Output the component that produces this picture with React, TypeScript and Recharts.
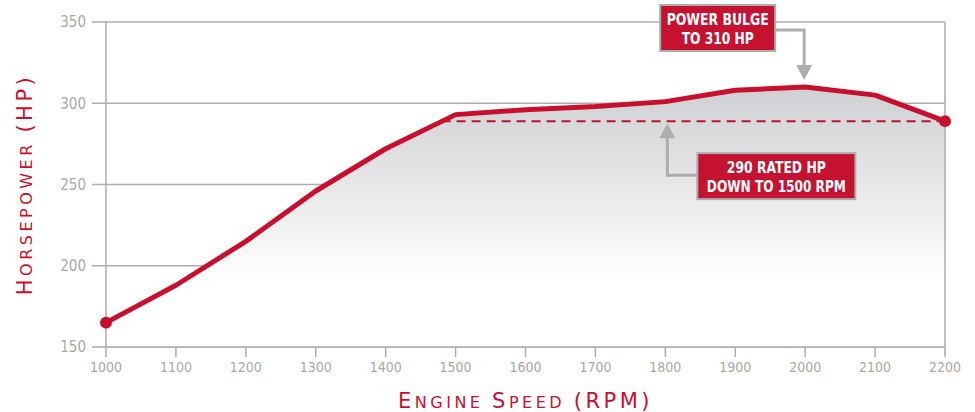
import {
  ComposedChart,
  Area,
  Line,
  XAxis,
  YAxis,
  CartesianGrid,
  ReferenceLine,
  ReferenceDot,
} from 'recharts'

const rpm = [1000, 1100, 1200, 1300, 1400, 1500, 1600, 1700, 1800, 1900, 2000, 2100, 2200]
const horsepower = [165, 188, 215, 246, 272, 293, 296, 298, 301, 308, 310, 305, 289]
const hpTicks = [150, 200, 250, 300, 350]
const ratedHp = 289
const ratedFromRpm = 1480
const peak = { rpm: 2000, hp: 310 }
const ratedArrowRpm = 1800

const data = rpm.map((r, i) => ({ rpm: r, hp: horsepower[i] }))

const RED = '#c8102e'
const GRAY = '#adadad'
const TICK_FONT = '"Liberation Sans Narrow", "DejaVu Sans Condensed", sans-serif'
const TITLE_FONT = '"DejaVu Sans", Verdana, sans-serif'
const BOX_FONT = '"DejaVu Sans Condensed", "Liberation Sans Narrow", sans-serif'

// small caps done by hand: big first letters, smaller rest
function SmallCaps({ parts }: { parts: [string, boolean][] }) {
  return (
    <>
      {parts.map(([s, big], i) => (
        <tspan key={i} fontSize={big ? 21 : 16}>{s}</tspan>
      ))}
    </>
  )
}

function XTitle({ viewBox }: any) {
  const { x, y, width } = viewBox
  return (
    <text x={x + width / 2} y={y + 61} textAnchor="middle" fill={RED} fontFamily={TITLE_FONT} letterSpacing={3.5}>
      <SmallCaps parts={[['E', true], ['NGINE ', false], ['S', true], ['PEED ', false], ['(RPM)', true]]} />
    </text>
  )
}

function YTitle({ viewBox }: any) {
  const { y, height } = viewBox
  const cx = 32
  const cy = y + height / 2
  return (
    <text x={cx} y={cy} textAnchor="middle" fill={RED} fontFamily={TITLE_FONT} letterSpacing={3.5} transform={`rotate(-90 ${cx} ${cy})`}>
      <SmallCaps parts={[['H', true], ['ORSEPOWER ', false], ['(HP)', true]]} />
    </text>
  )
}

function Box({ x, y, w, h, lines }: { x: number; y: number; w: number; h: number; lines: [string, number][] }) {
  return (
    <g>
      <rect x={x} y={y} width={w} height={h} fill="#c41230" stroke={GRAY} strokeWidth={2} />
      {lines.map(([l, len], i) => (
        <text
          key={i}
          x={x + w / 2}
          y={y + 20 + i * 19}
          textAnchor="middle"
          fill="#fff"
          fontFamily={BOX_FONT}
          fontWeight="bold"
          fontSize={15}
          textLength={len}
          lengthAdjust="spacingAndGlyphs"
        >
          {l}
        </text>
      ))}
    </g>
  )
}

function PeakNote({ cx, cy }: any) {
  return (
    <g>
      <polyline points={`${cx - 30},${cy - 57} ${cx - 1},${cy - 57} ${cx - 1},${cy - 22}`} fill="none" stroke={GRAY} strokeWidth={3} />
      <polygon points={`${cx - 9},${cy - 22} ${cx + 7},${cy - 22} ${cx - 1},${cy - 7}`} fill={GRAY} />
      <Box x={cx - 145} y={cy - 82} w={115} h={46} lines={[['POWER BULGE', 102], ['TO 310 HP', 72]]} />
    </g>
  )
}

function RatedNote({ cx, cy }: any) {
  return (
    <g>
      <polyline points={`${cx + 32},${cy + 54} ${cx + 2},${cy + 54} ${cx + 2},${cy + 16}`} fill="none" stroke={GRAY} strokeWidth={3} />
      <polygon points={`${cx - 6},${cy + 17} ${cx + 10},${cy + 17} ${cx + 2},${cy + 2}`} fill={GRAY} />
      <Box x={cx + 32} y={cy + 32} w={158} h={46} lines={[['290 RATED HP', 99], ['DOWN TO 1500 RPM', 139]]} />
    </g>
  )
}

function EndDot(props: any) {
  const { cx, cy, index } = props
  if (index !== 0 && index !== data.length - 1) return <g key={index} />
  return <circle key={index} cx={cx} cy={cy} r={6} fill={RED} />
}

export default function App() {
  return (
    <div style={{ position: 'absolute', left: 0, top: 0, background: '#fff' }}>
      <ComposedChart width={975} height={412} data={data} margin={{ top: 22, right: 30, bottom: 0, left: 0 }}>
        <defs>
          <linearGradient id="hpFill" gradientUnits="userSpaceOnUse" x1="0" y1="88" x2="0" y2="280">
            <stop offset="0%" stopColor="#cfd0d3" />
            <stop offset="55%" stopColor="#e9e9ea" />
            <stop offset="100%" stopColor="#ffffff" />
          </linearGradient>
        </defs>
        <CartesianGrid vertical={false} stroke={GRAY} strokeWidth={1.5} />
        <XAxis
          dataKey="rpm"
          type="number"
          domain={[1000, 2200]}
          ticks={rpm}
          height={65}
          tickSize={10}
          tickMargin={5}
          axisLine={{ stroke: GRAY, strokeWidth: 1.5 }}
          tickLine={{ stroke: GRAY, strokeWidth: 1.5 }}
          tick={{ fill: '#a8a8a8', fontSize: 14, fontFamily: TICK_FONT }}
          label={<XTitle />}
        />
        <YAxis
          type="number"
          domain={[150, 350]}
          ticks={hpTicks}
          width={106}
          tickSize={14}
          tickMargin={6}
          axisLine={{ stroke: GRAY, strokeWidth: 1.5 }}
          tickLine={{ stroke: GRAY, strokeWidth: 1.5 }}
          tick={{ fill: '#a8a8a8', fontSize: 15, fontFamily: TICK_FONT }}
          label={<YTitle />}
        />
        <ReferenceLine x={2200} stroke={GRAY} strokeWidth={1.5} />
        <Area dataKey="hp" type="linear" fill="url(#hpFill)" fillOpacity={1} stroke="none" isAnimationActive={false} />
        <ReferenceLine
          segment={[{ x: ratedFromRpm, y: ratedHp }, { x: 2200, y: ratedHp }]}
          stroke={RED}
          strokeWidth={2}
          strokeDasharray="9 6"
        />
        <Line
          dataKey="hp"
          type="linear"
          stroke={RED}
          strokeWidth={5}
          strokeLinejoin="round"
          dot={EndDot}
          activeDot={false}
          isAnimationActive={false}
        />
        <ReferenceDot x={peak.rpm} y={peak.hp} r={0} shape={(p: any) => <PeakNote cx={p.cx} cy={p.cy} />} />
        <ReferenceDot x={ratedArrowRpm} y={ratedHp} r={0} shape={(p: any) => <RatedNote cx={p.cx} cy={p.cy} />} />
      </ComposedChart>
    </div>
  )
}
